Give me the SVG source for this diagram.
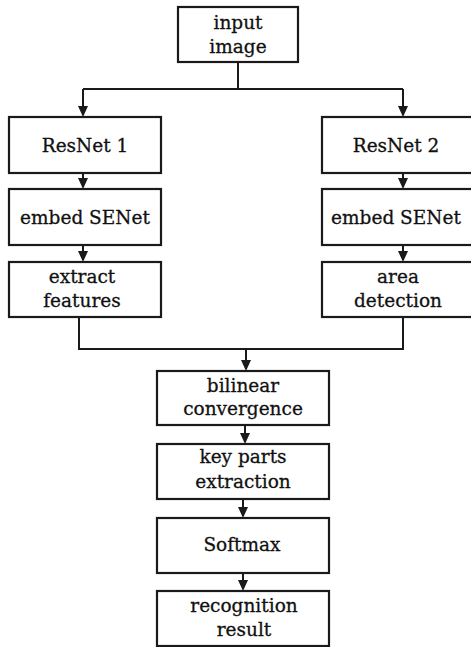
<svg xmlns="http://www.w3.org/2000/svg" width="471" height="647" viewBox="0 0 471 647">
<style>
.box{fill:#fff;stroke:#1a1a1a;stroke-width:2.2}
.t{font-family:"DejaVu Serif","Liberation Serif",serif;font-size:18.5px;fill:#111;stroke:#111;stroke-width:0.3;text-anchor:middle}
.c{fill:none;stroke:#1a1a1a;stroke-width:2}
.ah{fill:#1a1a1a}
</style>
<rect width="471" height="647" fill="#fff"/>
<g id="connectors">
<path class="c" d="M238,62 V89 M83,89 H403"/>
<path class="c" d="M83,89 V108"/>
<path class="ah" d="M78,106 L88,106 L83,117 Z"/>
<path class="c" d="M403,89 V108"/>
<path class="ah" d="M398,106 L408,106 L403,117 Z"/>
<path class="c" d="M83,173 V180"/>
<path class="ah" d="M78,178 L88,178 L83,189 Z"/>
<path class="c" d="M403,173 V180"/>
<path class="ah" d="M398,178 L408,178 L403,189 Z"/>
<path class="c" d="M83,245 V253"/>
<path class="ah" d="M78,251 L88,251 L83,262 Z"/>
<path class="c" d="M403,245 V253"/>
<path class="ah" d="M398,251 L408,251 L403,262 Z"/>
<path class="c" d="M79,317 V349 H403 V317 M246,349 V362"/>
<path class="ah" d="M241,360 L251,360 L246,371 Z"/>
<path class="c" d="M245,425 V435"/>
<path class="ah" d="M240,433 L250,433 L245,444 Z"/>
<path class="c" d="M243,499 V509"/>
<path class="ah" d="M238,507 L248,507 L243,518 Z"/>
<path class="c" d="M243,573 V582"/>
<path class="ah" d="M238,580 L248,580 L243,591 Z"/>
</g>
<g id="input">
<rect class="box" x="178" y="7" width="120" height="55"/>
<text class="t" x="238" y="29">input</text>
<text class="t" x="238" y="53">image</text>
</g>
<g id="resnet1">
<rect class="box" x="9" y="117" width="152" height="56"/>
<text class="t" x="85" y="152">ResNet 1</text>
</g>
<g id="resnet2">
<rect class="box" x="322" y="117" width="160" height="56"/>
<text class="t" x="396" y="152">ResNet 2</text>
</g>
<g id="senet1">
<rect class="box" x="9" y="189" width="152" height="56"/>
<text class="t" x="85" y="224">embed SENet</text>
</g>
<g id="senet2">
<rect class="box" x="322" y="189" width="160" height="56"/>
<text class="t" x="396" y="224">embed SENet</text>
</g>
<g id="extract">
<rect class="box" x="9" y="262" width="152" height="55"/>
<text class="t" x="82" y="283">extract</text>
<text class="t" x="82" y="307">features</text>
</g>
<g id="area">
<rect class="box" x="322" y="262" width="160" height="55"/>
<text class="t" x="398" y="283">area</text>
<text class="t" x="398" y="307">detection</text>
</g>
<g id="bilinear">
<rect class="box" x="157" y="371" width="172" height="54"/>
<text class="t" x="243" y="392">bilinear</text>
<text class="t" x="243" y="415">convergence</text>
</g>
<g id="keyparts">
<rect class="box" x="157" y="444" width="172" height="55"/>
<text class="t" x="243" y="463">key parts</text>
<text class="t" x="243" y="488">extraction</text>
</g>
<g id="softmax">
<rect class="box" x="157" y="518" width="172" height="55"/>
<text class="t" x="242" y="551">Softmax</text>
</g>
<g id="result">
<rect class="box" x="157" y="591" width="172" height="55"/>
<text class="t" x="244" y="612">recognition</text>
<text class="t" x="244" y="636">result</text>
</g>
</svg>
